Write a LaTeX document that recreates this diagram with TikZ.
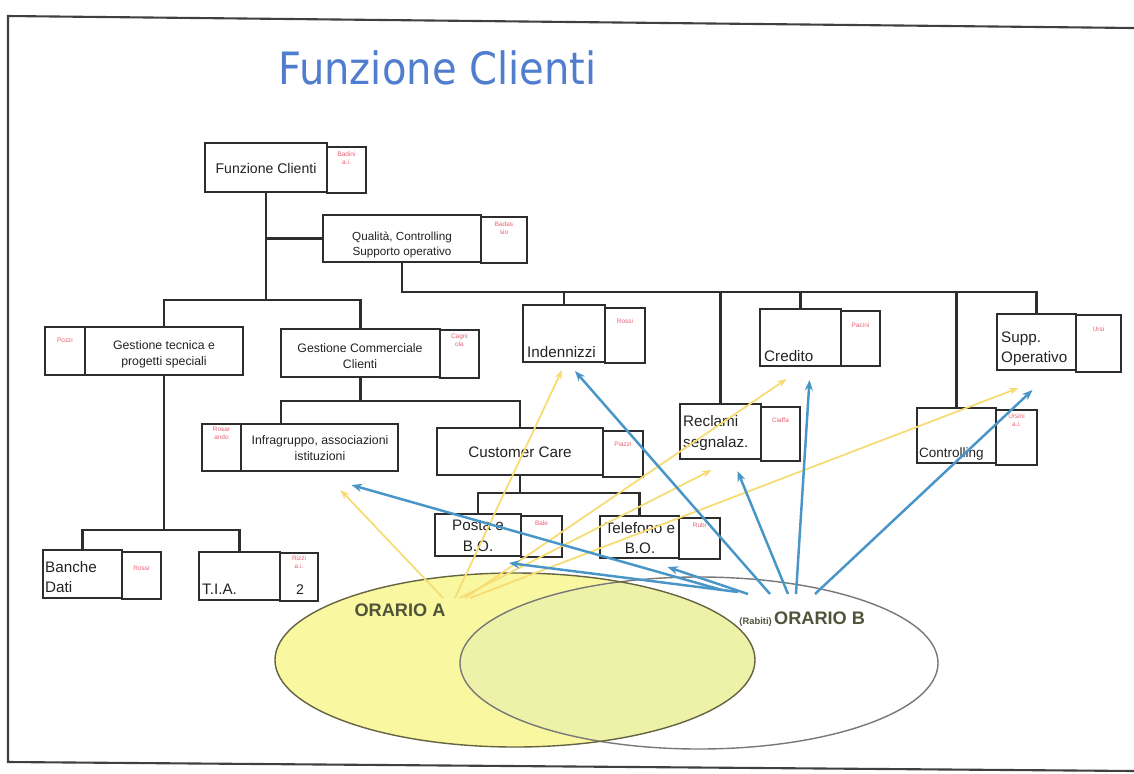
\documentclass[tikz,border=0pt]{standalone}
\usepackage{fontspec}
\setmainfont{Liberation Sans}
\newfontfamily\titlefont{DejaVu Sans}
\usetikzlibrary{arrows.meta,calc}

\definecolor{titleblue}{RGB}{80,125,205}
\definecolor{linegray}{RGB}{45,45,45}
\definecolor{sidered}{RGB}{235,95,115}
\definecolor{fillA}{RGB}{249,247,160}
\definecolor{fillAB}{RGB}{238,241,168}
\definecolor{edgeA}{RGB}{100,100,65}
\definecolor{edgeB}{RGB}{120,120,120}
\definecolor{arrY}{RGB}{247,220,115}
\definecolor{arrB}{RGB}{72,150,200}
\definecolor{labelgray}{RGB}{80,84,58}
\definecolor{txtgray}{RGB}{35,35,35}

\newcommand\fbig{\fontsize{13}{17.5}\selectfont}
\newcommand\fmid{\fontsize{12}{14}\selectfont}
\newcommand\fsmall{\fontsize{10.5}{13.5}\selectfont}
\newcommand\fqual{\fontsize{10}{12.5}\selectfont}
\newcommand\ftiny{\fontsize{5.5}{6.5}\selectfont}

% box of the chart: name, x1, y1, x2, y2 (pixel grid)
\newcommand\ob[5]{\node[box, minimum width={(#4-#2)*0.03cm}, minimum height={(#5-#3)*0.03cm}] (#1) at ({(#2+#4)/2},{(#3+#5)/2}) {};}

% all boxes of the chart
\newcommand\allboxes{%
\ob{fc}{205}{143}{327}{192} \ob{fcS}{327}{147}{366}{193}
\ob{qc}{323}{215}{481}{262} \ob{qcS}{481}{217}{527}{263}
\ob{gt}{85}{327}{243}{375}  \ob{gtS}{45}{327}{85}{375}
\ob{gc}{281}{329}{440}{377} \ob{gcS}{440}{330}{479}{378}
\ob{in}{523}{305}{605}{362} \ob{inS}{605}{308}{645}{363}
\ob{cr}{760}{309}{841}{366} \ob{crS}{841}{311}{880}{366}
\ob{so}{997}{314}{1076}{370} \ob{soS}{1076}{315}{1121}{372}
\ob{ig}{241}{424}{398}{471} \ob{igS}{202}{424}{241}{471}
\ob{cc}{437}{428}{603}{475} \ob{ccS}{603}{431}{643}{477}
\ob{re}{680}{404}{761}{459} \ob{reS}{761}{407}{800}{461}
\ob{co}{917}{408}{996}{463} \ob{coS}{996}{410}{1037}{465}
\ob{bd}{43}{550}{122}{598}  \ob{bdS}{122}{552}{161}{599}
\ob{ti}{199}{552}{280}{600} \ob{tiS}{280}{553}{318}{601}
\ob{po}{435}{514}{521}{556} \ob{poS}{521}{516}{562}{557}
\ob{te}{600}{516}{679}{558} \ob{teS}{679}{518}{720}{559}}

\tikzset{
  box/.style={draw=linegray, line width=1.4pt, fill=white, inner sep=0pt, outer sep=0pt},
  org/.style={draw=linegray, line width=2.4pt, line cap=rect},
  txt/.style={inner sep=0pt, text=txtgray, align=center},
  note/.style={inner sep=0pt, text=sidered, align=center, font=\ftiny, anchor=north},
  frameline/.style={draw=black!75, line width=1.8pt},
  ya/.style={draw=arrY, line width=1.5pt, -{Stealth[length=8pt,width=6pt]}},
  ba/.style={draw=arrB, line width=2.1pt, -{Stealth[length=9pt,width=7pt]}},
  orario/.style={inner sep=0pt, text=labelgray, font=\bfseries\fontsize{15.5}{17}\selectfont},
}

\begin{document}
\begin{tikzpicture}[x=0.03cm, y=-0.03cm]
\useasboundingbox[fill=white] (0,0) rectangle (1134,773);

% slide frame
\draw[frameline] (1134,28) -- (8,16) -- (8,762) -- (1134,771);

% title
\node[inner sep=0pt, anchor=base west, text=titleblue, font=\titlefont\fontsize{38}{40}\selectfont] (title) at (278,84) {\scalebox{0.9}[1]{Funzione Clienti}};

% the two time-slot sets
\fill[fillA] (515,660) ellipse [x radius=7.2cm, y radius=2.61cm];
\begin{scope}
  \clip (515,660) ellipse [x radius=7.2cm, y radius=2.61cm];
  \fill[fillAB] (699,663) ellipse [x radius=7.17cm, y radius=2.58cm];
\end{scope}
\draw[edgeB, line width=1.2pt] (699,663) ellipse [x radius=7.17cm, y radius=2.58cm];
\draw[edgeA, line width=1.2pt] (515,660) ellipse [x radius=7.2cm, y radius=2.61cm];

% boxes first, so that the lines can find them
\allboxes

% reporting lines
\coordinate (busA) at (0,300);
\coordinate (busQ) at (0,292);
\coordinate (busT) at (0,530);
\coordinate (busC) at (0,401);
\coordinate (busP) at (0,493);
\coordinate (igdrop) at (281,424);
\draw[org] (fc.south) -- (fc.south |- busA);
\draw[org] (fc.south |- qc.west) -- (qc.west);
\draw[org] (gt.north |- busA) -- (gc.north |- busA);
\draw[org] (gt.north |- busA) -- (gt.north);
\draw[org] (gc.north |- busA) -- (gc.north);
\draw[org] (qc.south) -- (qc.south |- busQ) -- (so.north |- busQ) -- (so.north);
\foreach \n in {in,cr,re,co} {\draw[org] (\n.north |- busQ) -- (\n.north);}
\draw[org] (gt.south) -- (gt.south |- busT);
\draw[org] (bd.north |- busT) -- (ti.north |- busT);
\draw[org] (bd.north |- busT) -- (bd.north);
\draw[org] (ti.north |- busT) -- (ti.north);
\draw[org] (gc.south) -- (gc.south |- busC);
\draw[org] (igdrop |- busC) -- (cc.north |- busC);
\draw[org] (igdrop |- busC) -- (igdrop);
\draw[org] (cc.north |- busC) -- (cc.north);
\draw[org] (cc.south) -- (cc.south |- busP);
\draw[org] (po.north |- busP) -- (te.north |- busP);
\draw[org] (po.north |- busP) -- (po.north);
\draw[org] (te.north |- busP) -- (te.north);

% boxes again, over the line ends
\allboxes

% unit names
\node[txt, font=\fmid] (fcT) at (266,168) {Funzione Clienti};
\node[txt, font=\fqual] (qcT) at (402,245) {Qualità, Controlling\\Supporto operativo};
\node[txt, font=\fsmall] (gtT) at (164,354) {Gestione tecnica e\\progetti speciali};
\node[txt, font=\fsmall] (gcT) at (360,356) {Gestione Commerciale\\Clienti};
\node[txt, font=\fbig, anchor=base west] (inT) at (527,357) {Indennizzi};
\node[txt, font=\fbig, anchor=base west] (crT) at (764,361) {Credito};
\node[txt, font=\fbig, anchor=west, align=left] (soT) at (1001,349) {Supp.\\Operativo};
\node[txt, font=\fsmall] (igT) at (320,448) {Infragruppo, associazioni\\istituzioni};
\node[txt, font=\fbig] (ccT) at (520,452) {Customer Care};
\node[txt, font=\fbig, anchor=west, align=left] (reT) at (683,433) {Reclami\\segnalaz.};
\node[txt, font=\fontsize{11.5}{13}\selectfont, anchor=base west] (coT) at (919,457) {Controlling};
\node[txt, font=\fbig, anchor=west, align=left] (bdT) at (45,577) {Banche\\Dati};
\node[txt, font=\fbig, anchor=base west] (tiT) at (202,594) {T.I.A.};
\node[txt, font=\fmid] (tiN) at (300,590) {2};
\node[txt, font=\fbig] (poT) at (478,536) {Posta e\\B.O.};
\node[txt, font=\fbig] (teT) at (640,538) {Telefono e\\B.O.};

% people in charge
\node[note] (fcN) at ($(fcS.north)+(0,5)$) {Badini\\a.i.};
\node[note] (qcN) at ($(qcS.north)+(0,5)$) {Badas\\sio};
\node[note] (gtN) at ($(gtS.north)+(0,11)$) {Pozzi};
\node[note] (gcN) at ($(gcS.north)+(0,4)$) {Cagni\\ola};
\node[note] (inN) at ($(inS.north)+(0,11)$) {Rossi};
\node[note] (crN) at ($(crS.north)+(0,12)$) {Pacini};
\node[note] (soN) at ($(soS.north)+(0,12)$) {Ursi};
\node[note] (igN) at ($(igS.north)+(0,3)$) {Rosar\\ando};
\node[note] (ccN) at ($(ccS.north)+(0,11)$) {Piazzi};
\node[note] (reN) at ($(reS.north)+(0,11)$) {Ciaffa};
\node[note] (coN) at ($(coS.north)+(0,4)$) {Ursini\\a.i.};
\node[note] (bdN) at ($(bdS.north)+(0,14)$) {Rossi};
\node[note] (tiN2) at ($(tiS.north)+(0,3)$) {Rizzi\\a.i.};
\node[note] (poN) at ($(poS.north)+(0,5)$) {Bale};
\node[note] (teN) at ($(teS.north)+(0,5)$) {Rubi};

% set labels
\node[orario] (lblA) at (400,610) {ORARIO A};
\node[orario, anchor=west] (lblB) at (774,618) {ORARIO B};
\node[inner sep=0pt, text=labelgray, font=\bfseries\fontsize{8}{9}\selectfont, anchor=base east] (lblR) at ($(lblB.base west)+(-2,0)$) {(Rabiti)};

% starting points of the assignments
\coordinate (ya1) at (443,598);
\coordinate (ya2) at (455,598);
\coordinate (ya3) at (460,598);
\coordinate (ya4) at (465,598);
\coordinate (ya5) at (470,598);
\coordinate (bb1) at (722,590);
\coordinate (bb2) at (738,592);
\coordinate (bb3) at (748,594);
\coordinate (bb4) at (770,594);
\coordinate (bb5) at (788,594);
\coordinate (bb6) at (796,594);
\coordinate (bb7) at (815,594);

% ORARIO A assignments
\draw[ya] (ya1) -- ($(ig.south)+(21,19)$);
\draw[ya] (ya2) -- ($(in.south)+(-2,8)$);
\draw[ya] (ya3) -- ($(re.south)+(-9,11)$);
\draw[ya] (ya4) -- ($(cr.south)+(-14,13)$);
\draw[ya] (ya5) -- ($(so.south)+(-18,18)$);

% ORARIO B assignments
\draw[ba] (bb1) -- ($(ig.south)+(32,14)$);
\draw[ba] (bb2) -- ($(po.south)+(31,7)$);
\draw[ba] (bb3) -- ($(te.south)+(28,9)$);
\draw[ba] (bb4) -- ($(in.south)+(11,9)$);
\draw[ba] (bb5) -- ($(re.south)+(17,12)$);
\draw[ba] (bb6) -- ($(cr.south)+(9,14)$);
\draw[ba] (bb7) -- ($(so.south)+(-4,20)$);
\end{tikzpicture}
\end{document}
